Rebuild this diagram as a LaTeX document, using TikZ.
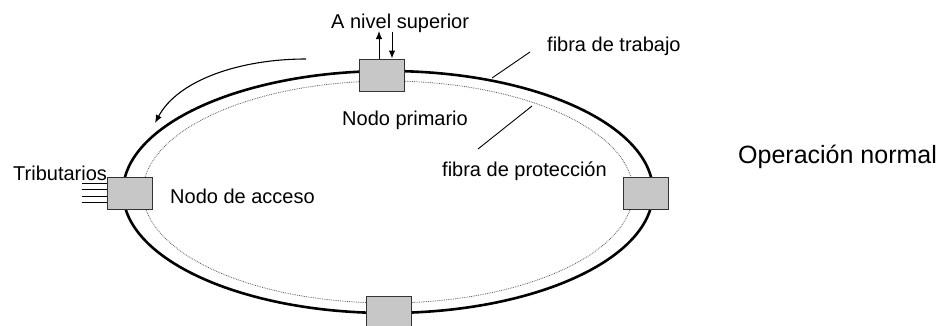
\documentclass[tikz,border=0pt]{standalone}
\usepackage{fontspec}
\setmainfont{Liberation Sans}
\usetikzlibrary{arrows.meta}
\usetikzlibrary{positioning}

\begin{document}
\begin{tikzpicture}[x=1pt, y=-1pt,
  nodo/.style={rectangle, draw=black!80, fill=black!22, line width=1pt, minimum width=45pt, minimum height=32pt, inner sep=0pt},
  label/.style={inner sep=0pt, anchor=base west, font=\fontsize{20}{24}\selectfont}]
    \tikzset{>={Latex[length=8pt,width=6.5pt]}}
  \useasboundingbox (0,0) rectangle (952,325);
  \clip (0,0) rectangle (952,325);

  %% fibras
  \draw[line width=2.6pt] (388,192) ellipse [x radius=265pt, y radius=121pt];
  \draw[densely dotted, black!65, line width=0.8pt] (388,192) ellipse [x radius=245pt, y radius=111pt];

  %% nodos
  \node[nodo] (n1) at (382,75) {};
  \node[nodo] (n2) at (130,193) {};
  \node[nodo] (n3) at (646,193) {};
  \node[nodo] (n4) at (389,312) {};

  %% a nivel superior
  \coordinate (up) at (379,31);
  \coordinate (dn) at (392,32);
  \draw[->, line width=1pt] (up |- n1.north) -> (up);
  \draw[->, line width=1pt] (dn) -> (dn |- n1.north);

  %% sentido
  \coordinate (c0) at (306,59);
  \coordinate (c1) at (155,123);
  \draw[->, line width=1.1pt] (c0) .. controls (240,59) and (178,80) .. (c1);

  %% tributarios
  \foreach \k/\y in {1/183,2/189.5,3/196,4/202.5} {
    \coordinate (t\k) at (82,\y);
    \draw[line width=0.9pt] (t\k) -- (t\k -| n2.west);
  }

  %% indicadores
  \coordinate (ft0) at (530,52);
  \coordinate (ft1) at (492,78);
  \draw[line width=0.9pt] (ft0) -- (ft1);
  \coordinate (fp0) at (532,106);
  \coordinate (fp1) at (478,149);
  \draw[line width=0.9pt] (fp0) -- (fp1);

  %% labels
  \node[label] (lsup) at (331,28) {A nivel superior};
  \node[label] (lprim) at (342,125) {Nodo primario};
  \node[label] (ltrab) at (547,51) {fibra de trabajo};
  \node[label] (lprot) at (442,176) {fibra de protección};
  \node[label] (ltrib) at (13,180) {Tributarios};
  \node[label] (lacc) at (170,203) {Nodo de acceso};
  \node[label, font=\fontsize{25}{30}\selectfont] (lop) at (738,163) {Operación normal};

\end{tikzpicture}
\end{document}
